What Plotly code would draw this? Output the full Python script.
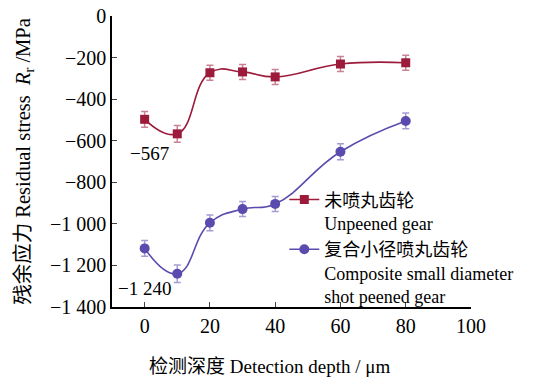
import plotly.graph_objects as go

depth = [0, 10, 20, 30, 40, 60, 80]
unpeened = [-497, -567, -273, -269, -293, -231, -225]
unpeened_err = [38, 40, 36, 36, 36, 36, 36]
composite = [-1118, -1240, -995, -929, -904, -653, -505]
composite_err = [38, 42, 38, 36, 36, 38, 38]

y_ticks = [0, -200, -400, -600, -800, -1000, -1200, -1400]
y_ticktext = ["0", "−200", "−400", "−600", "−800", "−1 000", "−1 200", "−1 400"]
x_ticks = [0, 20, 40, 60, 80, 100]

red = "#9c1b3b"
blue = "#5a4cae"
FONT = "Liberation Serif, Noto Sans CJK SC"

fig = go.Figure()
fig.add_trace(go.Scatter(
    x=depth, y=unpeened, mode="lines+markers",
    name="未喷丸齿轮<br>Unpeened gear",
    line=dict(color=red, width=1.6, shape="spline", smoothing=1.3),
    marker=dict(symbol="square", size=9, color=red),
    error_y=dict(type="data", array=unpeened_err, color="rgba(156,27,59,0.55)", thickness=1.5, width=3.5),
))
fig.add_trace(go.Scatter(
    x=depth, y=composite, mode="lines+markers",
    name="复合小径喷丸齿轮<br>Composite small diameter<br>shot peened gear",
    line=dict(color=blue, width=1.6, shape="spline", smoothing=1.3),
    marker=dict(symbol="circle", size=10, color=blue),
    error_y=dict(type="data", array=composite_err, color="rgba(90,76,174,0.55)", thickness=1.5, width=3.5),
))

fig.add_annotation(x=1.5, y=-660, text="−567", showarrow=False, font=dict(size=19, color="black", family=FONT))
fig.add_annotation(x=0, y=-1312, text="−1 240", showarrow=False, font=dict(size=19, color="black", family=FONT))
fig.add_annotation(xref="paper", yref="paper", x=0.44, y=-0.206, xanchor="center", yanchor="middle",
                   text="检测深度 Detection depth / μm", showarrow=False,
                   font=dict(size=19, color="black", family=FONT))

fig.update_layout(
    width=551, height=380,
    margin=dict(l=112, r=80, t=16, b=73),
    paper_bgcolor="white", plot_bgcolor="white",
    font=dict(family=FONT, size=20, color="black"),
    showlegend=True,
    legend=dict(x=0.48, y=0.432, xanchor="left", yanchor="top", valign="top",
                bgcolor="rgba(0,0,0,0)", font=dict(size=18, family=FONT),
                itemwidth=30, tracegroupgap=0),
    xaxis=dict(range=[-10, 100], tickvals=x_ticks, ticks="inside", ticklen=5, automargin=False,
               showline=True, linecolor="black", linewidth=1.5, showgrid=False, zeroline=False),
    yaxis=dict(range=[-1400, 0], tickvals=y_ticks, ticktext=y_ticktext, ticks="inside", ticklen=5,
               automargin=False,
               showline=True, linecolor="black", linewidth=1.5, showgrid=False, zeroline=False,
               title=dict(text="残余应力 Residual stress  <i>R</i><sub>r</sub> /MPa", standoff=14,
                          font=dict(size=20.5))),
)

fig.write_html("out.html")
